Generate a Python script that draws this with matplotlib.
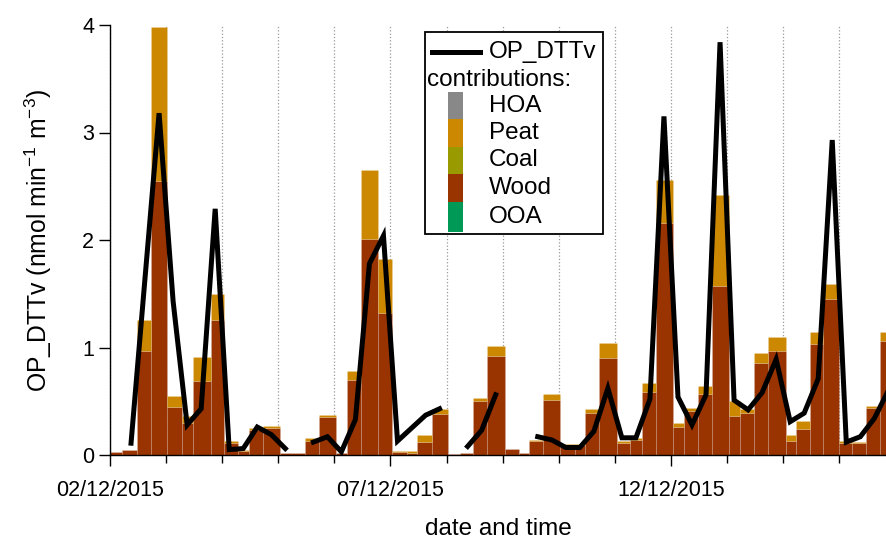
import numpy as np
import pandas as pd
import matplotlib
matplotlib.use("Agg")
import matplotlib.pyplot as plt
import matplotlib.dates as mdates
from matplotlib.patches import Rectangle
from matplotlib.lines import Line2D

plt.rcParams['font.family'] = ['Liberation Sans', 'DejaVu Sans']
plt.rcParams['mathtext.default'] = 'regular'

# sample periods (hours after 02/12/2015 00:00), contiguous filter edges
bar_edges_h = [0, 5.3, 11.4, 17.4, 24.6, 30.9, 35.4, 43.2, 48.8, 54.9, 59.5, 65.6,
               72.7, 83.4, 89.4, 96.7, 101.5, 107.4, 114.8, 120.8, 126.9, 131.5,
               137.6, 144.7, 149.7, 155.4, 161.5, 169.0, 175.1, 179.4, 185.4, 192.6,
               198.9, 203.4, 209.2, 216.8, 222.5, 227.5, 233.5, 241.0, 245.7, 251.4,
               257.4, 265.0, 269.6, 275.5, 281.6, 289.1, 293.5, 299.5, 305.0, 312.0,
               317.3, 323.4, 329.4, 335.4]

wood = [0.03, 0.05, 0.97, 2.55, 0.45, 0.30, 0.69, 1.26, 0.11, 0.04,
        0.23, 0.25, 0.02, 0.13, 0.35, 0.02, 0.70, 2.01, 1.32, 0.03,
        0.02, 0.12, 0.38, 0.01, 0.02, 0.50, 0.92, 0.06, 0.02, 0.13,
        0.51, 0.08, 0.09, 0.39, 0.90, 0.11, 0.14, 0.59, 2.16, 0.26,
        0.41, 0.57, 1.57, 0.36, 0.39, 0.86, 0.97, 0.13, 0.24, 1.03,
        1.45, 0.11, 0.11, 0.44, 1.06]

peat = [0.0, 0.0, 0.29, 1.43, 0.10, 0.06, 0.22, 0.24, 0.02, 0.01,
        0.02, 0.02, 0.0, 0.025, 0.02, 0.0, 0.08, 0.64, 0.50, 0.01,
        0.02, 0.07, 0.05, 0.0, 0.0, 0.03, 0.09, 0.0, 0.0, 0.005,
        0.06, 0.02, 0.01, 0.04, 0.14, 0.02, 0.02, 0.08, 0.40, 0.04,
        0.03, 0.07, 0.85, 0.14, 0.04, 0.09, 0.13, 0.06, 0.08, 0.11,
        0.14, 0.02, 0.01, 0.02, 0.08]

# measured OP_DTTv, 6-hourly, first point 02/12/2015 09:00
nan = np.nan
op_dttv = [0.11, 1.65, 3.18, 1.43, 0.28, 0.43, 2.29, 0.05, 0.06, 0.26, 0.19, 0.06,
           nan, 0.12, 0.17, 0.03, 0.33, 1.78, 2.04, 0.13, 0.25, 0.37, 0.43, nan,
           0.08, 0.23, 0.56, nan, nan, 0.17, 0.14, 0.07, 0.07, 0.22, 0.62, 0.16,
           0.16, 0.52, 3.15, 0.54, 0.28, 0.56, 3.84, 0.51, 0.42, 0.58, 0.89, 0.31,
           0.39, 0.71, 2.93, 0.12, 0.17, 0.34, 0.60]

legend_names = ['HOA', 'Peat', 'Coal', 'Wood', 'OOA']
colors = {'HOA': '#888888', 'Peat': '#CC8800', 'Coal': '#999900',
          'Wood': '#993300', 'OOA': '#009955'}

t0 = pd.Timestamp('2015-12-02 00:00')
edges = np.array([mdates.date2num(t0 + pd.Timedelta(hours=h)) for h in bar_edges_h])
starts = edges[:-1]
widths = np.diff(edges)
line_t = pd.date_range('2015-12-02 09:00', periods=len(op_dttv), freq='6h')

fig = plt.figure(figsize=(8.86, 5.39), dpi=100)
ax = fig.add_axes([110/886, 84/539, 776/886, 430/539])

wood = np.array(wood)
peat = np.array(peat)
ax.bar(starts, wood, width=widths, align='edge', color=colors['Wood'],
       edgecolor=(1, 1, 1, 0.18), linewidth=0.5, zorder=2)
ax.bar(starts, peat, width=widths, bottom=wood, align='edge', color=colors['Peat'],
       edgecolor=(1, 1, 1, 0.18), linewidth=0.5, zorder=2)
ax.plot(line_t, op_dttv, color='black', lw=3.6, solid_joinstyle='miter', zorder=3)

ax.set_ylim(0, 4)
ax.set_xlim(mdates.date2num(t0), mdates.date2num(t0 + pd.Timedelta(hours=332)))
ax.set_yticks([0, 1, 2, 3, 4])
ax.xaxis.set_major_locator(mdates.DayLocator(bymonthday=[2, 7, 12]))
ax.xaxis.set_major_formatter(mdates.DateFormatter('%d/%m/%Y'))
ax.xaxis.set_minor_locator(mdates.DayLocator())
ax.grid(axis='x', which='both', ls=':', color='#999999', lw=0.9, zorder=0)
ax.set_axisbelow(True)

for s in ['top', 'right']:
    ax.spines[s].set_visible(False)
ax.spines['left'].set_linewidth(1.0)
ax.spines['bottom'].set_linewidth(1.0)
ax.tick_params(axis='both', which='major', length=8, width=1.0, labelsize=15.5)
ax.tick_params(axis='x', which='minor', length=6, width=1.0)
ax.tick_params(axis='x', which='major', pad=10)

ax.set_xlabel('date and time', fontsize=17.5, labelpad=12)
ax.set_ylabel('OP_DTTv (nmol min$^{-1}$ m$^{-3}$)', fontsize=17.8, labelpad=20)

# legend drawn by hand (figure pixel positions)
def fx(px):
    return px / 886

def fy(py):
    return 1 - py / 539

tf = fig.transFigure
frame = Rectangle((fx(425), fy(234)), (603 - 425) / 886, (234 - 32) / 539,
                  transform=tf, facecolor='white', edgecolor='black', lw=1.3, zorder=10)
fig.patches.append(frame)
fig.lines.append(Line2D([fx(432), fx(480)], [fy(51.7), fy(51.7)], transform=tf,
                        color='black', lw=3.6, zorder=11))
fig.text(fx(489), fy(51.7), 'OP_DTTv', fontsize=17.5, va='center', ha='left', zorder=11)
fig.text(fx(427), fy(80), 'contributions:', fontsize=17.5, va='center', ha='left', zorder=11)
row_edges = [91.7, 119.3, 146.7, 174.3, 202.3, 231.7]
for i, name in enumerate(legend_names):
    top, bot = row_edges[i], row_edges[i + 1]
    fig.patches.append(Rectangle((fx(448), fy(bot)), 15 / 886, (bot - top) / 539,
                                 transform=tf, facecolor=colors[name], edgecolor='none',
                                 zorder=11))
    fig.text(fx(489), fy((top + bot) / 2), name, fontsize=17.5, va='center',
             ha='left', zorder=11)

fig.savefig('out.png', dpi=100)
